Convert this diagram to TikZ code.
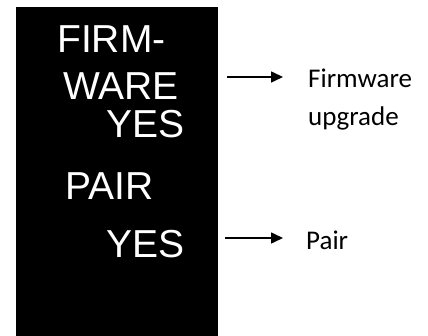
\documentclass[tikz,border=0pt]{standalone}
\usepackage{fontspec}
\setmainfont{Liberation Sans}
\newfontfamily\notefont{Carlito}
\usetikzlibrary{arrows.meta}
\begin{document}
\begin{tikzpicture}[x=1pt,y=-1pt,
    screen/.style={font=\fontsize{39}{39}\selectfont, text=white, inner sep=0pt},
    note/.style={font=\notefont\fontsize{27}{27}\selectfont, inner sep=0pt, anchor=base west},
    pointer/.style={-{Triangle[length=12pt,width=11pt]}, line width=1.6pt}]
  \useasboundingbox (0,0) rectangle (428,336);
  \fill (16,7) rectangle (218,336);
  \draw
    (57,53) node[screen,anchor=base west] (firm){FIRM-}
    (63,100) node[screen,anchor=base west] (ware){WARE}
    (185,138) node[screen,anchor=base east] (fwyes){YES}
    (65,200) node[screen,anchor=base west] (pair){PAIR}
    (185,258) node[screen,anchor=base east] (pairyes){YES};
  \draw
    (308,88) node[note] (fwnote){Firmware}
    (308,126) node[note] (fwnote2){upgrade}
    (306,250) node[note] (pairnote){Pair};
  \coordinate (fwtail) at (227,77);
  \coordinate (fwhead) at (283,77);
  \coordinate (pairtail) at (225,238);
  \coordinate (pairhead) at (283,238);
  \begin{scope}[pointer]
    \draw (fwtail) to (fwhead);
    \draw (pairtail) to (pairhead);
  \end{scope}
\end{tikzpicture}
\end{document}
